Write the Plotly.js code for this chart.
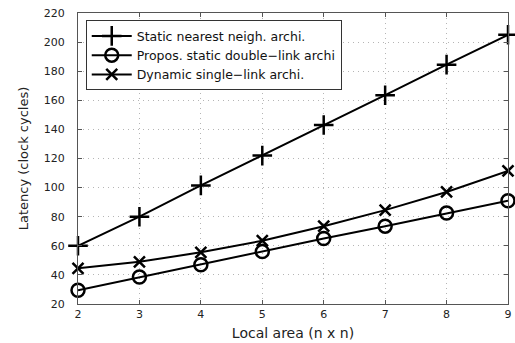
<!DOCTYPE html>
<html>
<head>
<meta charset="utf-8">
<script src="https://cdn.plot.ly/plotly-3.0.1.min.js"></script>
<style>html,body{margin:0;padding:0;background:#fff;}#chart{width:515px;height:343px;}</style>
</head>
<body>
<div id="chart"></div>
<script>
const localArea = [2, 3, 4, 5, 6, 7, 8, 9];
const staticNearest = [60, 80, 101.5, 122, 143, 163.5, 184.5, 205];
const proposedDouble = [29.5, 38.5, 47, 56, 65, 73.5, 82.5, 91];
const dynamicSingle = [44.5, 49, 55.5, 63.5, 73.5, 84.5, 97, 111.5];
const seriesNames = ["Static nearest neigh. archi.", "Propos. static double\u2212link archi", "Dynamic single\u2212link archi."];
const yTicks = [20, 40, 60, 80, 100, 120, 140, 160, 180, 200, 220];

const font = "DejaVu Sans, Verdana, sans-serif";
const mk = (y, name, symbol, size) => ({
  x: localArea, y: y, name: name, type: "scatter", mode: "lines+markers",
  cliponaxis: false,
  line: {color: "#000", width: 2},
  marker: {symbol: symbol, size: size, color: "#000", line: {color: "#000", width: 2.5}}
});
const data = [
  mk(staticNearest, seriesNames[0], "cross-thin-open", 14),
  mk(proposedDouble, seriesNames[1], "circle-open", 13),
  mk(dynamicSingle, seriesNames[2], "x-thin-open", 11)
];
const axisCommon = {
  showline: true, linecolor: "#555", linewidth: 1, mirror: "allticks",
  ticks: "inside", ticklen: 4, tickcolor: "#555",
  showgrid: true, gridcolor: "#b5b5b5", griddash: "1px,4px", gridwidth: 1,
  zeroline: false, tickfont: {family: font, size: 11, color: "#222"}
};
const layout = {
  width: 515, height: 343,
  margin: {l: 78, r: 7, t: 13, b: 39},
  paper_bgcolor: "#fff", plot_bgcolor: "#fff",
  showlegend: true,
  legend: {x: 0.018, y: 0.975, xanchor: "left", yanchor: "top",
    bgcolor: "#fff", bordercolor: "#333", borderwidth: 1,
    font: {family: font, size: 12.5, color: "#111"}, tracegroupgap: 0, itemwidth: 40},
  xaxis: Object.assign({}, axisCommon, {range: [2, 9], tickvals: localArea, ticktext: localArea.map(String),
    ticklabelstandoff: 0,
    title: {text: "Local area (n x n)", font: {family: font, size: 14, color: "#222"}, standoff: 7}}),
  yaxis: Object.assign({}, axisCommon, {range: [20, 220], tickvals: yTicks,
    ticklabelstandoff: 10,
    title: {text: "Latency (clock cycles)", font: {family: font, size: 13, color: "#222"}, standoff: 12}})
};
Plotly.newPlot("chart", data, layout, {displayModeBar: false, staticPlot: true});
</script>
</body>
</html>
